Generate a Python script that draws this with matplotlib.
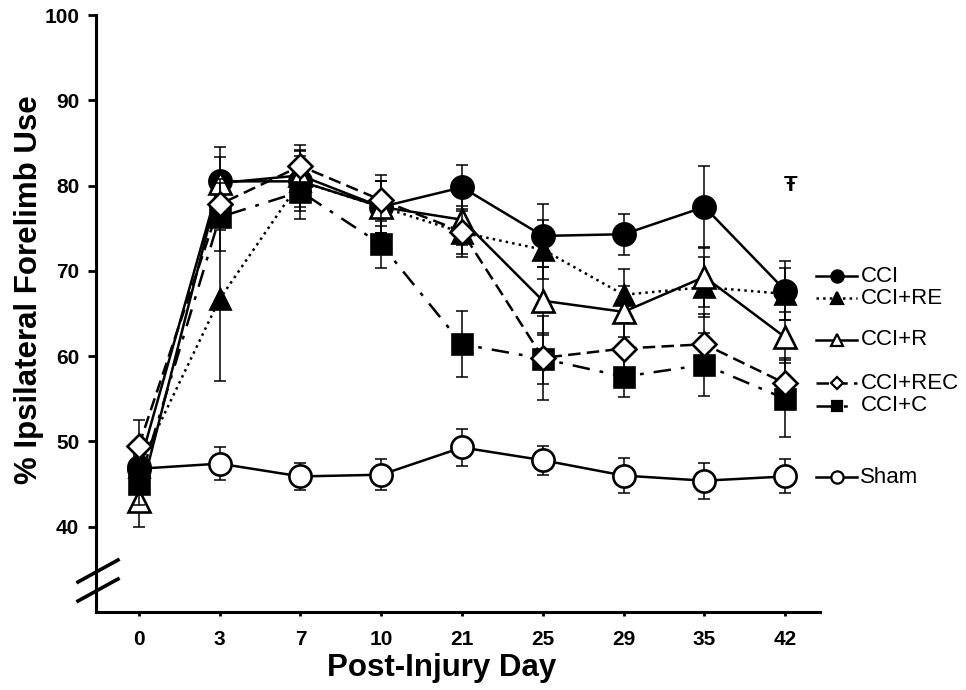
import matplotlib
matplotlib.use('Agg')
import matplotlib.pyplot as plt
from matplotlib.lines import Line2D

plt.rcParams['font.family'] = ['Liberation Sans', 'DejaVu Sans']

days = ['0', '3', '7', '10', '21', '25', '29', '35', '42']

cci = [47.0, 80.5, 80.5, 77.5, 79.8, 74.1, 74.3, 77.5, 67.7]
cci_err = [1.5, 4.0, 3.5, 3.0, 2.6, 3.7, 2.4, 4.8, 3.5]

cci_re = [47.0, 66.7, 80.5, 77.5, 74.5, 72.5, 67.2, 68.1, 67.3]
cci_re_err = [1.5, 9.6, 3.0, 3.0, 2.5, 3.5, 3.0, 3.5, 3.0]

cci_r = [43.0, 80.3, 81.2, 77.5, 76.0, 66.5, 65.2, 69.3, 62.2]
cci_r_err = [3.0, 3.0, 3.0, 3.0, 3.0, 4.0, 3.0, 3.5, 3.0]

cci_rec = [49.5, 77.8, 82.3, 78.3, 74.6, 59.8, 60.9, 61.4, 56.8]
cci_rec_err = [3.0, 3.0, 2.5, 3.0, 3.0, 4.9, 3.0, 3.5, 3.0]

cci_c = [45.0, 76.3, 79.3, 73.1, 61.4, 59.7, 57.6, 59.0, 55.0]
cci_c_err = [2.5, 4.0, 3.2, 2.8, 3.9, 3.0, 2.4, 3.7, 4.5]

sham = [46.8, 47.4, 45.9, 46.1, 49.3, 47.8, 46.0, 45.4, 45.9]
sham_err = [1.5, 1.9, 1.6, 1.8, 2.2, 1.7, 2.1, 2.1, 2.0]

# label y-positions of the right-hand key (data units)
legend_y = {'CCI': 69.4, 'CCI+RE': 66.8, 'CCI+R': 61.9,
            'CCI+REC': 56.8, 'CCI+C': 54.2, 'Sham': 45.8}

series = [
    # name, values, errors, marker, ms, face, linestyle, zorder
    ('Sham', sham, sham_err, 'o', 16, 'white', '-', 2),
    ('CCI', cci, cci_err, 'o', 16, 'black', '-', 3),
    ('CCI+RE', cci_re, cci_re_err, '^', 15, 'black', ':', 4),
    ('CCI+R', cci_r, cci_r_err, '^', 16, 'white', '-', 5),
    ('CCI+C', cci_c, cci_c_err, 's', 14, 'black', (0, (7, 4, 1.5, 4)), 6),
    ('CCI+REC', cci_rec, cci_rec_err, 'D', 12, 'white', (0, (5, 2.5)), 7),
]

fig = plt.figure(figsize=(9.66, 6.9), dpi=100)
ax = fig.add_axes([0.0994, 0.1130, 0.7495, 0.8652])

x = list(range(len(days)))
for name, vals, errs, mk, ms, face, ls, z in series:
    ax.errorbar(x, vals, yerr=errs, fmt='none', ecolor='black', elinewidth=1.1,
                capsize=4, capthick=1.1, zorder=z)
    ax.plot(x, vals, linestyle=ls, color='black', linewidth=1.8, marker=mk,
            markersize=ms, markerfacecolor=face, markeredgecolor='black',
            markeredgewidth=1.9, zorder=z + 0.5)

    # key entry at the right of the plot
    ly = legend_y[name]
    ax.plot([8.38, 8.89], [ly, ly], linestyle=ls, color='black', linewidth=1.8,
            clip_on=False, zorder=z)
    ax.plot([8.64], [ly], marker=mk, markersize=ms * 0.55, markerfacecolor=face,
            markeredgecolor='black', markeredgewidth=1.6, clip_on=False, zorder=z + 0.5)
    ax.text(8.93, ly, name, fontsize=16, va='center', ha='left')

ax.text(8.06, 80.0, '\u0166', fontsize=16, fontweight='bold', ha='center', va='center')

ax.set_xlim(-0.53, 8.43)
ax.set_ylim(30, 100)
ax.set_xticks(x)
ax.set_xticklabels(days)
ax.set_yticks(range(40, 101, 10))

for side in ['top', 'right']:
    ax.spines[side].set_visible(False)
for side in ['left', 'bottom']:
    ax.spines[side].set_linewidth(2.2)

ax.tick_params(axis='y', length=6, width=2, pad=6, labelsize=15)
ax.tick_params(axis='x', length=3, width=2, pad=10, labelsize=15)
for lab in ax.get_xticklabels() + ax.get_yticklabels():
    lab.set_fontweight('bold')

ax.set_xlabel('Post-Injury Day', fontsize=22.5, fontweight='bold')
ax.set_ylabel('% Ipsilateral Forelimb Use', fontsize=22.5, fontweight='bold')
ax.xaxis.set_label_coords(0.477, -0.068)
ax.yaxis.set_label_coords(-0.072, 0.54)

# axis break marks on the y axis
for y0, y1 in [(582, 560), (601, 579)]:
    fig.add_artist(Line2D([78 / 966, 118 / 966], [1 - y0 / 690, 1 - y1 / 690],
                          color='black', linewidth=2.6, transform=fig.transFigure))

fig.savefig('out.png', dpi=100)
